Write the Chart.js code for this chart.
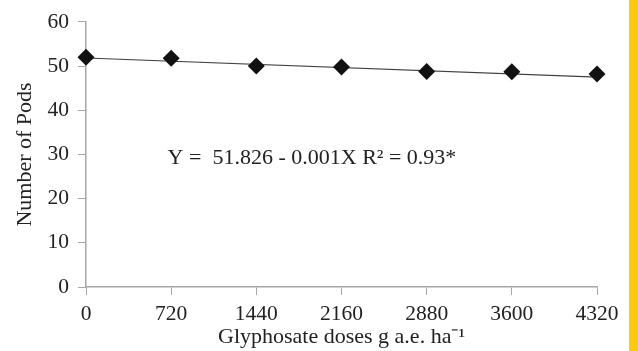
<!DOCTYPE html>
<html>
<head>
<meta charset="utf-8">
<script src="https://cdn.jsdelivr.net/npm/chart.js@4"></script>
<style>
  html, body { margin: 0; padding: 0; background: #ffffff; }
  #wrap { position: relative; width: 638px; height: 351px; }
  #side { position: absolute; left: 629px; top: 0; width: 9px; height: 351px; background: #FFC90C; }
</style>
</head>
<body>
<div id="wrap">
  <canvas id="c" width="638" height="351"></canvas>
  <div id="side"></div>
</div>
<script>
// Glyphosate doses (g a.e. ha-1) and mean number of pods per plant
const doses = [0, 720, 1440, 2160, 2880, 3600, 4320];
const pods = [52.0, 51.8, 50.0, 49.8, 48.8, 48.7, 48.2];
const xTicks = [0, 720, 1440, 2160, 2880, 3600, 4320];
const yTicks = [0, 10, 20, 30, 40, 50, 60];

// Fitted regression: Y = 51.826 - 0.001X
const intercept = 51.826;
const slope = -0.001;
const r2 = 0.93;
const equationText = 'Y =  ' + intercept.toFixed(3) + ' - ' + Math.abs(slope).toFixed(3) + 'X R\u00B2 = ' + r2.toFixed(2) + '*';

const observed = doses.map((d, i) => ({ x: d, y: pods[i] }));
const xMin = xTicks[0], xMax = xTicks[xTicks.length - 1];
const fitted = [
  { x: xMin, y: intercept + slope * xMin },
  { x: xMax, y: intercept + slope * xMax }
];

const serif = "'Liberation Serif', 'Times New Roman', serif";
const axisGray = '#a6a6a6';
const textColor = '#222222';

// Writes the regression equation inside the plot area
const equationLabel = {
  id: 'equationLabel',
  afterDatasetsDraw(chart) {
    const { ctx, scales } = chart;
    const px = scales.x.getPixelForValue(690);
    const py = scales.y.getPixelForValue(29.2);
    ctx.save();
    ctx.font = '22px ' + serif;
    ctx.fillStyle = textColor;
    ctx.textAlign = 'left';
    ctx.textBaseline = 'middle';
    ctx.fillText(equationText, px, py);
    ctx.restore();
  }
};

new Chart(document.getElementById('c'), {
  type: 'scatter',
  data: {
    datasets: [
      {
        type: 'line',
        data: fitted,
        borderColor: '#404040',
        borderWidth: 1.2,
        pointRadius: 0,
        fill: false,
        clip: false,
        order: 2
      },
      {
        data: observed,
        pointStyle: 'rectRot',
        pointRadius: 8.5,
        pointHoverRadius: 8.5,
        backgroundColor: '#111111',
        borderColor: '#111111',
        borderWidth: 0,
        clip: false,
        order: 1
      }
    ]
  },
  options: {
    responsive: false,
    animation: false,
    events: [],
    layout: { padding: { top: 21, right: 41, left: 0, bottom: 0 } },
    plugins: {
      legend: { display: false },
      tooltip: { enabled: false }
    },
    scales: {
      x: {
        type: 'linear',
        min: xMin,
        max: xMax,
        afterBuildTicks(scale) { scale.ticks = xTicks.map(v => ({ value: v })); },
        afterFit(scale) { scale.height = 64; },
        grid: { drawOnChartArea: false, drawTicks: true, tickLength: 8, color: axisGray, lineWidth: 1 },
        border: { color: axisGray, width: 1.5 },
        ticks: {
          color: textColor,
          font: { family: serif, size: 21.5 },
          padding: 6,
          maxRotation: 0,
          callback: v => String(v)
        },
        title: {
          display: true,
          text: 'Glyphosate doses g a.e. ha\u207B\u00B9',
          color: textColor,
          font: { family: serif, size: 22 },
          padding: { top: 0, bottom: 1 }
        }
      },
      y: {
        type: 'linear',
        min: yTicks[0],
        max: yTicks[yTicks.length - 1],
        afterBuildTicks(scale) { scale.ticks = yTicks.map(v => ({ value: v })); },
        afterFit(scale) { scale.width = 86; },
        grid: { drawOnChartArea: false, drawTicks: true, tickLength: 8, color: axisGray, lineWidth: 1 },
        border: { color: axisGray, width: 1.5 },
        ticks: {
          color: textColor,
          font: { family: serif, size: 21.5 },
          padding: 9,
          callback: v => String(v)
        },
        title: {
          display: true,
          text: 'Number of Pods',
          color: textColor,
          font: { family: serif, size: 22 },
          padding: { top: 12, bottom: 0 }
        }
      }
    }
  },
  plugins: [equationLabel]
});
</script>
</body>
</html>
